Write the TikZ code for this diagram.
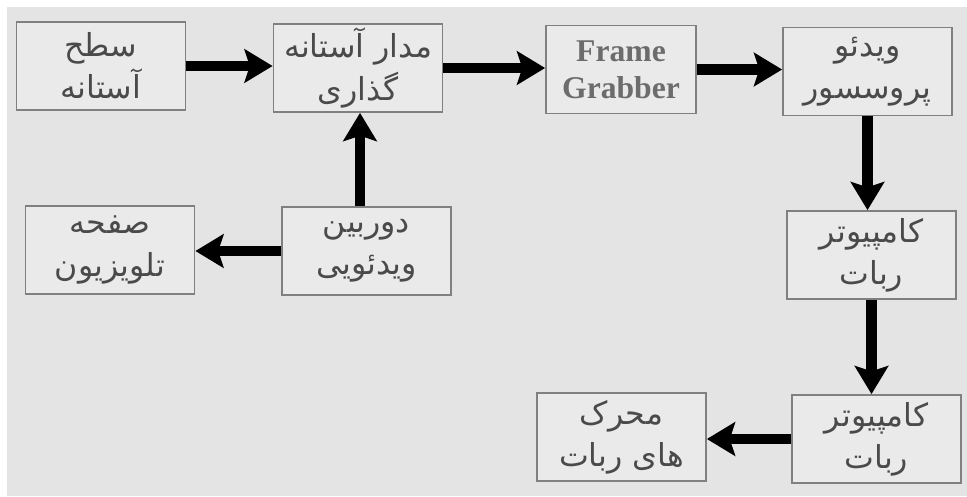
\documentclass[tikz,border=0pt]{standalone}
\usepackage{fontspec}
\usepackage{tikz}
\usetikzlibrary{arrows.meta}
\setmainfont{Liberation Serif}
\newfontfamily\farsi[Script=Arabic]{DejaVu Sans}
\TeXXeTstate=1
\definecolor{paper}{HTML}{E4E4E4}
\definecolor{ink}{HTML}{4A4A4A}
\newcommand{\rl}[1]{\beginR #1\endR}

\begin{document}
\begin{tikzpicture}[
  box/.style={draw=gray, line width=1pt, fill=white, fill opacity=0.25, text opacity=1,
    text=ink, minimum width=3.38cm, minimum height=1.76cm, align=center, inner sep=1pt,
    font=\farsi\fontsize{18}{24}\selectfont},
  flow/.style={line width=6pt, -{Stealth[length=16pt,width=19pt,inset=3pt]}}
]
  \useasboundingbox (0,0) rectangle (19.34,-9.92);
  \fill[paper] (0.14,-0.14) rectangle (19.34,-9.92);
  \node[box] (surface) at (2.02,-1.32) {\rl{سطح}\\\rl{آستانه}};
  \node[box] (thresh) at (7.16,-1.36) {\rl{مدار آستانه}\\\rl{گذاری}};
  \node[box, minimum width=3cm, text=gray!85!black, font=\bfseries\fontsize{18}{21}\selectfont] (grab) at (12.42,-1.39) {Frame\\Grabber};
  \node[box] (vproc) at (17.35,-1.43) {\rl{ویدئو}\\\rl{پروسسور}};
  \node[box] (camera) at (7.33,-5.02) {\rl{دوربین}\\\rl{ویدئویی}};
  \node[box] (tv) at (2.2,-5.0) {\rl{صفحه}\\\rl{تلویزیون}};
  \node[box] (comp1) at (17.43,-5.10) {\rl{کامپیوتر}\\\rl{ربات}};
  \node[box] (comp2) at (17.53,-8.78) {\rl{کامپیوتر}\\\rl{ربات}};
  \node[box] (motors) at (12.43,-8.74) {\rl{محرک}\\\rl{های ربات}};
  \draw[flow] (surface.east) -- (surface.east -| thresh.west);
  \draw[flow] (thresh.east) -- (thresh.east -| grab.west);
  \draw[flow] (grab.east) -- (grab.east -| vproc.west);
  \draw[flow] ([xshift=0.04cm]camera.north -| thresh.south) -- ([xshift=0.04cm]thresh.south);
  \draw[flow] (camera.west) -- (camera.west -| tv.east);
  \draw[flow] (vproc.south) -- (vproc.south |- comp1.north);
  \draw[flow] (comp1.south) -- (comp1.south |- comp2.north);
  \draw[flow] (comp2.west) -- (comp2.west -| motors.east);
\end{tikzpicture}
\end{document}
